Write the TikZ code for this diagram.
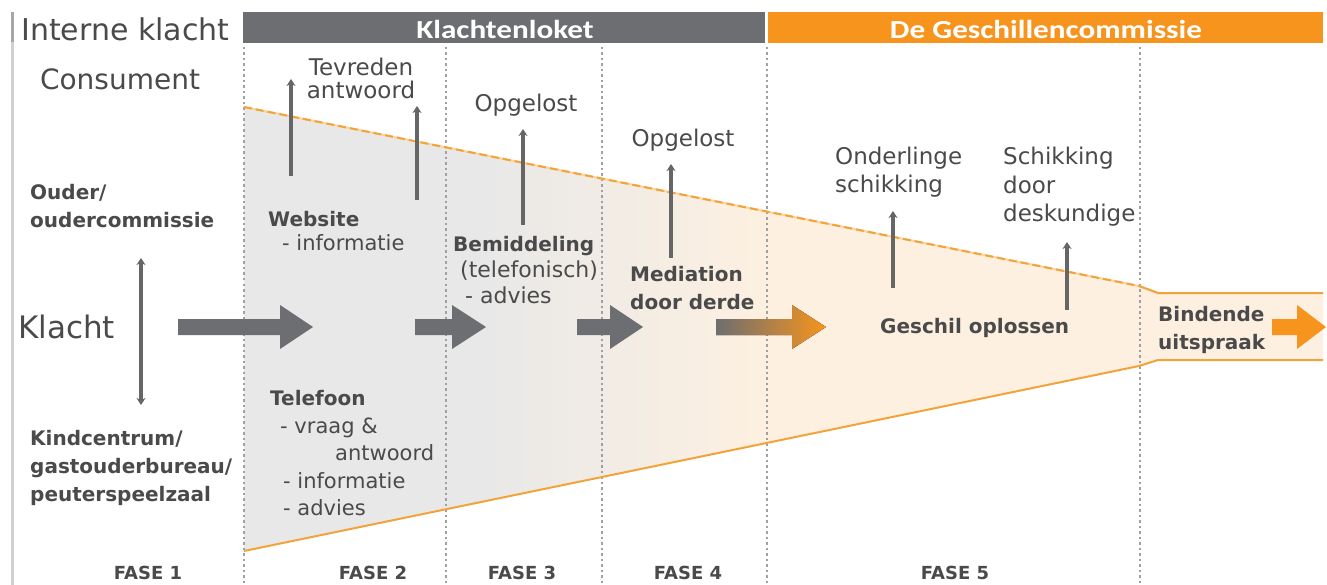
\documentclass[tikz,border=0pt]{standalone}
\usepackage{fontspec}
\setmainfont{DejaVu Sans}
\newfontfamily\hdrfont[FakeStretch=1.2]{Carlito}
\usetikzlibrary{arrows.meta}
\definecolor{hgray}{HTML}{6D6E71}
\definecolor{horange}{HTML}{F7941D}
\definecolor{txt}{HTML}{4A4A4A}
\definecolor{fgray}{HTML}{E8E8E8}
\definecolor{fpeach}{HTML}{FDF0E1}
\definecolor{fline}{HTML}{F2A43A}
\definecolor{flinel}{HTML}{F9D49C}
\definecolor{agray}{HTML}{666666}
\definecolor{dotc}{HTML}{A0A0A0}
\definecolor{borderc}{HTML}{D0D0D0}
\pgfdeclarehorizontalshading{funnelshade}{100bp}{color(0bp)=(fgray); color(25bp)=(fgray); color(38bp)=(fgray); color(54bp)=(fpeach); color(100bp)=(fpeach)}
\newcommand\TL[1]{\begin{tabular}[t]{@{}l@{}}#1\end{tabular}}
\newcommand\BF[1]{{\fontsize{20}{28}\selectfont\bfseries #1}}
\newcommand\blockarrow[5]{%
  \fill[#5] (#1,{#4-8}) -- (#2,{#4-8}) -- (#2,{#4-22}) -- (#3,#4) -- (#2,{#4+22}) -- (#2,{#4+8}) -- (#1,{#4+8}) -- cycle;}
\begin{document}
\begin{tikzpicture}[x=1pt,y=-1pt,
  lbl/.style={inner sep=0pt, text=txt, font=\fontsize{23}{28}\selectfont, anchor=mid west},
  blbl/.style={lbl, font=\fontsize{20}{28}\selectfont\bfseries},
  fase/.style={inner sep=0pt, text=txt, font=\fontsize{18}{22}\selectfont\bfseries},
  tip/.tip={Stealth[length=7pt,width=9pt]},
  thinarrow/.style={draw=agray, line width=3.4pt, -tip},
  dotline/.style={draw=dotc, line width=2pt, dash pattern=on 2.5pt off 3pt},
  hdr/.style={inner sep=0pt, text=white, font=\hdrfont\fontsize{26}{30}\selectfont\bfseries}]
\useasboundingbox (0,0) rectangle (1327,585);
\fill[white] (0,0) rectangle (1327,585);

% left border
\draw[borderc, line width=3pt] (12,42) -- (12,585);
\draw[gray!70, line width=3pt] (12,12) -- (12,42);

% header bars
\fill[hgray] (243,12) rectangle (765,43);
\fill[horange] (768,12) rectangle (1323,43);
\node[hdr, anchor=mid] (hk) at (505,36) {Klachtenloket};
\node[hdr, anchor=mid] (hg) at (1046,36) {De Geschillencommissie};
\node[inner sep=0pt, text=txt, font=\fontsize{30}{34}\selectfont, anchor=mid west] (ik) at (21,38) {Interne klacht};

% funnel
\shade[shading=funnelshade] (244,107) -- (1139,286) -- (1139,366) -- (244,551) -- cycle;
\fill[fpeach] (1139,286) -- (1158,293) -- (1323,293) -- (1323,360) -- (1158,360) -- (1139,366) -- cycle;

% dotted phase lines
\foreach \x in {244,446,602,767,1140} \draw[dotline] (\x,47) -- (\x,585);

% funnel edges
\draw[flinel, line width=2pt] (244,107) -- (1139,286) -- (1158,293) -- (1323,293);
\draw[fline, line width=2pt, dash pattern=on 8pt off 4pt] (244,107) -- (1139,286);
\draw[fline, line width=2pt] (1139,286) -- (1158,293) -- (1323,293);
\draw[fline, line width=2pt] (244,551) -- (1139,366) -- (1158,360) -- (1323,360);

% block arrows
\blockarrow{178}{280}{313}{327}{hgray}
\blockarrow{415}{452}{486}{327}{hgray}
\blockarrow{577}{610}{643}{327}{hgray}
\blockarrow{716}{792}{826}{327}{left color=hgray, right color=horange}
\blockarrow{1272}{1297}{1326}{327}{horange}

% left column
\node[inner sep=0pt, text=txt, font=\fontsize{28}{32}\selectfont, anchor=mid] (cons) at (120,87) {Consument};
\node[blbl] (ouder) at (30,197) {\TL{Ouder/\\oudercommissie}};
\node[inner sep=0pt, text=txt, font=\fontsize{31}{34}\selectfont, anchor=mid west] (klacht) at (18,336) {Klacht};
\node[blbl] (kind) at (30,443) {\TL{Kindcentrum/\\gastouderbureau/\\peuterspeelzaal}};
\coordinate (dt) at (141,258);
\coordinate (db) at (141,405);
\draw[thinarrow, tip-tip] (dt) -- (db);

% fase 2
\node[lbl, anchor=mid] (tev) at (361,73) {Tevreden};
\node[lbl, anchor=mid] (antw) at (361,96) {antwoord};
\node[lbl, font=\fontsize{21}{24}\selectfont] (web) at (268,224) {\TL{\BF{Website}\\\hspace{14pt}- informatie}};
\node[lbl, font=\fontsize{21}{27.5}\selectfont] (tel) at (270,403) {\TL{\BF{Telefoon}\\\hspace{10pt}- vraag \&\\\hspace{65pt}antwoord\\\hspace{13pt}- informatie\\\hspace{13pt}- advies}};
\coordinate (a1b) at (291,176);
\coordinate (a1t) at (291,79);
\coordinate (a2b) at (417,200);
\coordinate (a2t) at (417,106);
\draw[thinarrow] (a1b) -- (a1t);
\draw[thinarrow] (a2b) -- (a2t);

% fase 3
\node[lbl, anchor=mid] (op1) at (526,109) {Opgelost};
\node[lbl, font=\fontsize{22}{26}\selectfont] (bem) at (453,249) {\TL{\BF{Bemiddeling}\\\hspace{7pt}(telefonisch)\\\hspace{12pt}- advies}};
\coordinate (a3b) at (523,225);
\coordinate (a3t) at (523,129);
\draw[thinarrow] (a3b) -- (a3t);

% fase 4
\node[lbl, anchor=mid] (op2) at (683,144) {Opgelost};
\node[blbl] (med) at (630,279) {\TL{Mediation\\door derde}};
\coordinate (a4b) at (671,258);
\coordinate (a4t) at (671,164);
\draw[thinarrow] (a4b) -- (a4t);

% fase 5
\node[lbl] (ond) at (835,162) {\TL{Onderlinge\\schikking}};
\node[lbl, font=\fontsize{23}{28.5}\selectfont] (sch) at (1003,162) {\TL{Schikking\\door\\deskundige}};
\node[blbl] (ges) at (880,331) {Geschil oplossen};
\node[blbl] (bin) at (1158,319) {\TL{Bindende\\uitspraak}};
\coordinate (a5b) at (893,288);
\coordinate (a5t) at (893,211);
\coordinate (a6b) at (1067,310);
\coordinate (a6t) at (1067,242);
\draw[thinarrow] (a5b) -- (a5t);
\draw[thinarrow] (a6b) -- (a6t);

% fase labels
\node[fase] (f1) at (148,573) {FASE 1};
\node[fase] (f2) at (373,573) {FASE 2};
\node[fase] (f3) at (522,573) {FASE 3};
\node[fase] (f4) at (688,573) {FASE 4};
\node[fase] (f5) at (955,573) {FASE 5};
\end{tikzpicture}
\end{document}
